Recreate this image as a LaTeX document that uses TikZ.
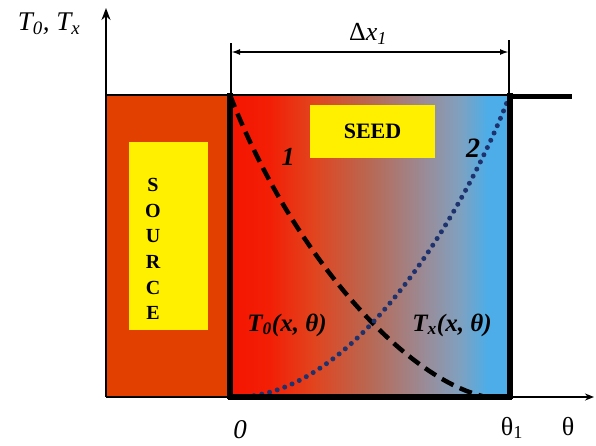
\documentclass[tikz,border=0pt]{standalone}
\usepackage{fontspec}
\setmainfont{Liberation Serif}
\usetikzlibrary{arrows.meta}
\definecolor{srcorange}{RGB}{226,64,0}
\definecolor{boxyellow}{RGB}{255,240,0}
\definecolor{dotblue}{RGB}{30,50,110}
\pgfdeclarehorizontalshading{seedshade}{100bp}{rgb(0bp)=(0.96,0.08,0);
  rgb(25bp)=(0.96,0.08,0); rgb(32bp)=(0.95,0.12,0.02); rgb(40bp)=(0.88,0.27,0.12);
  rgb(50bp)=(0.72,0.41,0.33); rgb(60bp)=(0.6,0.55,0.6); rgb(66bp)=(0.5,0.63,0.75);
  rgb(71bp)=(0.3,0.68,0.91); rgb(75bp)=(0.3,0.68,0.91); rgb(100bp)=(0.3,0.68,0.91)}

\begin{document}
\begin{tikzpicture}[x=1pt, y=-1pt,
    ybox/.style={fill=boxyellow, inner sep=0pt},
    lbl/.style={inner sep=0pt, font=\fontsize{27}{29}\selectfont\itshape},
    thickline/.style={line width=5.5pt}]
    \useasboundingbox (0,0) rectangle (596,445);
    % source and seed blocks
    \fill[srcorange] (106,95) rectangle (230,397);
    \shade[shading=seedshade] (230,95) rectangle (510,397);
    \node[ybox, minimum width=79pt, minimum height=188pt] (srcbox) at (168.5,236) {};
    \node[inner sep=0pt, align=center, font=\fontsize{20}{25.6}\selectfont\bfseries] (src) at (153,249) {S\\O\\U\\R\\C\\E};
    \node[ybox, minimum width=125pt, minimum height=53pt, font=\fontsize{22}{24}\selectfont\bfseries] (seed) at (372.5,131.5) {SEED};
    % axes
    \coordinate (org) at (106,397);
    \coordinate (ytip) at (106,8);
    \coordinate (xtip) at (594,397);
    \draw[line width=2pt, -{Stealth[length=12pt, width=9pt]}] (org) -- (ytip);
    \draw[line width=2pt, -{Stealth[length=9pt, width=7pt]}] (org) -- (xtip);
    \draw[line width=2pt] (106,95) -- (510,95);
    % curves
    \coordinate (a) at (230,95);
    \coordinate (b) at (482,396);
    \coordinate (c) at (238,397);
    \coordinate (d) at (509,97);
    \draw[line width=4.5pt, dash pattern=on 13pt off 7pt] (a) .. controls (290,250) and (400,375) .. (b);
    \draw[dotblue, line width=5pt, line cap=round, dash pattern=on 0pt off 8pt] (c) .. controls (360,395) and (470,200) .. (d);
    % borders
    \draw[thickline] (230,93) -- (230,399);
    \draw[thickline] (510,93) -- (510,399);
    \draw[thickline] (228,397) -- (512,397);
    \draw[line width=5pt] (510,96) -- (572,96);
    % dimension
    \coordinate (dl) at (231,43);
    \coordinate (dr) at (509,40);
    \draw[line width=1.2pt] (dl) -- (231,95);
    \draw[line width=1.2pt] (dr) -- (509,95);
    \draw[line width=2pt, {Latex[length=9pt, width=6pt]}-{Latex[length=9pt, width=6pt]}] (231,52) -- (509,52);
    % labels
    \node[lbl] (ylab) at (49,24) {T\textsubscript{0}, T\textsubscript{x}};
    \node[inner sep=0pt, font=\fontsize{26}{28}\selectfont] (dx) at (368,34) {Δ\textit{x}\textsubscript{\textit{1}}};
    \node[lbl, font=\fontsize{26}{28}\selectfont\itshape\bfseries] (one) at (288,157) {1};
    \node[lbl, font=\fontsize{28}{30}\selectfont\itshape\bfseries] (two) at (473,148) {2};
    \node[lbl, font=\fontsize{25}{27}\selectfont\itshape\bfseries] (tzero) at (287,325) {T\textsubscript{0}(x, θ)};
    \node[lbl, font=\fontsize{25}{27}\selectfont\itshape\bfseries] (tx) at (452,325) {T\textsubscript{x}(x, θ)};
    \node[lbl, font=\fontsize{27}{29}\selectfont\itshape] (zero) at (240,430) {0};
    \node[inner sep=0pt, font=\fontsize{26}{28}\selectfont] (th1) at (512,428) {θ\textsubscript{1}};
    \node[inner sep=0pt, font=\fontsize{26}{28}\selectfont] (th) at (568,427) {θ};
\end{tikzpicture}
\end{document}
